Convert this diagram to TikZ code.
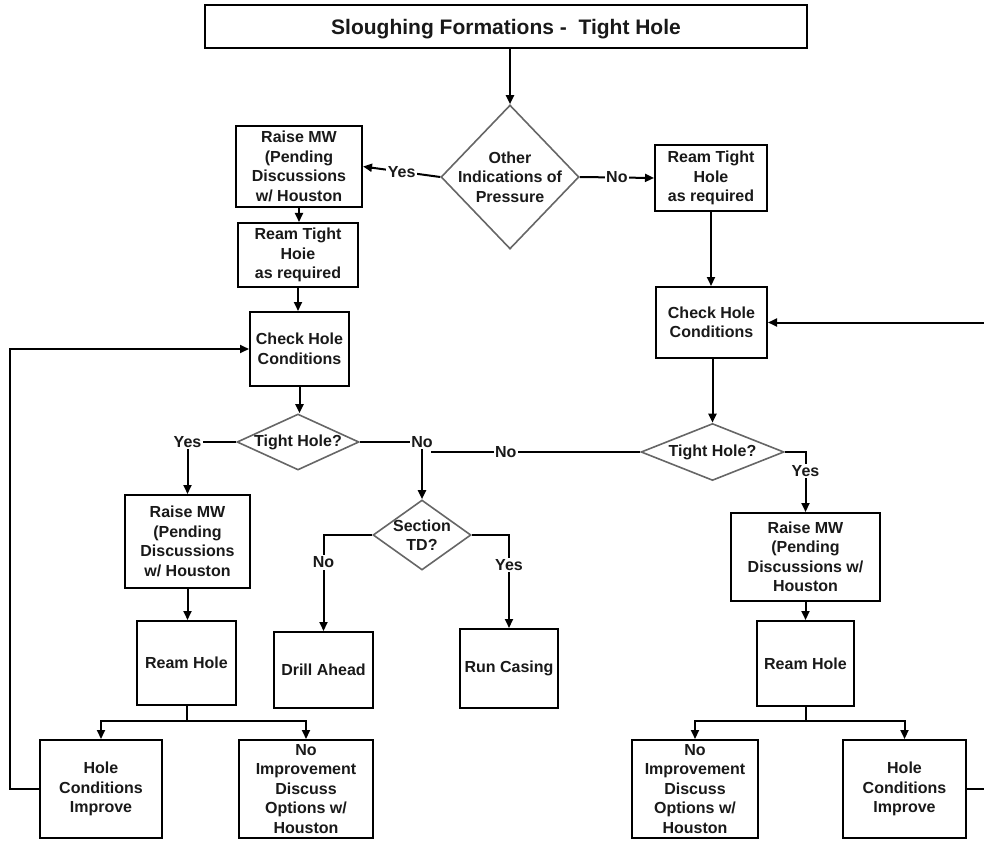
\documentclass[tikz,border=0pt]{standalone}
\usepackage{fontspec}
\setmainfont{Liberation Sans}
\usetikzlibrary{arrows.meta,shapes.geometric}
\newcommand\bxfont{\bfseries\fontsize{16}{19.5}\selectfont}
\newcommand\ttlfont{\bfseries\fontsize{21}{25}\selectfont}
\begin{document}
\begin{tikzpicture}[x=1pt,y=-1pt,
  every node/.style={text=black!90},
  stepbox/.style={draw=black, line width=2pt, rectangle, inner sep=0pt, align=center, font=\bxfont},
  decision/.style={draw=black!60, line width=1.6pt, diamond, inner sep=0pt},
  dtext/.style={align=center, font=\bxfont, inner sep=0pt},
  lbl/.style={fill=white, inner sep=1.5pt, font=\bxfont},
  conn/.style={draw=black, line width=2pt},
  arr/.style={conn, -{Triangle[length=9pt,width=8pt]}}]
\useasboundingbox (0,0) rectangle (984,842);

% title
\node[stepbox, font=\ttlfont, minimum width=602pt, minimum height=43pt, text depth=0pt] (title) at (506,26.5) {Sloughing Formations -\ \ Tight Hole};

% first decision
\node[decision, minimum width=138pt, minimum height=144pt] (d1) at (510,177) {};
\node[dtext] at (d1) {Other\\Indications of\\Pressure};

% left branch
\node[stepbox, minimum width=126pt, minimum height=81pt] (a1) at (299,166.5) {Raise MW\\(Pending\\Discussions\\w/ Houston};
\node[stepbox, minimum width=120pt, minimum height=64pt] (a2) at (298,255) {Ream Tight\\Hoie\\as required};
\node[stepbox, minimum width=99pt, minimum height=74pt] (a3) at (299.5,349) {Check Hole\\Conditions};
\node[decision, minimum width=122pt, minimum height=56pt] (d2) at (298,442) {};
\node[dtext] at (d2) {Tight Hole?};
\node[stepbox, minimum width=125pt, minimum height=93pt] (a4) at (187.5,541.5) {Raise MW\\(Pending\\Discussions\\w/ Houston};
\node[stepbox, minimum width=99pt, minimum height=84pt] (a5) at (186.5,663) {Ream Hole};
\node[stepbox, minimum width=122pt, minimum height=98pt] (b1) at (101,789) {Hole\\Conditions\\Improve};
\node[stepbox, minimum width=134pt, minimum height=98pt] (b2) at (306,789) {No\\Improvement\\Discuss\\Options w/\\Houston};

% section TD decision
\node[decision, minimum width=98pt, minimum height=70pt] (d3) at (422,535) {};
\node[dtext] at (d3) {Section\\TD?};
\node[stepbox, minimum width=99pt, minimum height=76pt] (drill) at (323.5,670) {Drill Ahead};
\node[stepbox, minimum width=98pt, minimum height=79pt] (casing) at (509,668.5) {Run Casing};

% right branch
\node[stepbox, minimum width=112pt, minimum height=66pt] (r1) at (711,178) {Ream Tight\\Hole\\as required};
\node[stepbox, minimum width=111pt, minimum height=71pt] (r2) at (711.5,322.5) {Check Hole\\Conditions};
\node[decision, minimum width=143pt, minimum height=57pt] (d4) at (712.5,452) {};
\node[dtext] at (d4) {Tight Hole?};
\node[stepbox, minimum width=149pt, minimum height=88pt] (r3) at (805.5,557) {Raise MW\\(Pending\\Discussions w/\\Houston};
\node[stepbox, minimum width=97pt, minimum height=85pt] (r4) at (805.5,663.5) {Ream Hole};
\node[stepbox, minimum width=126pt, minimum height=98pt] (r5) at (695,789) {No\\Improvement\\Discuss\\Options w/\\Houston};
\node[stepbox, minimum width=123pt, minimum height=98pt] (r6) at (904.5,789) {Hole\\Conditions\\Improve};

% loose ends of connectors
\coordinate (nojoin) at (431,452);
\coordinate (rloopB) at (984,789);
\coordinate (rloopT) at (984,322.5);

% connectors
\draw[arr] (title.south -| d1.north) -- (d1.north);
\draw[arr] (d1.west) -- node[lbl]{Yes} (a1.east);
\draw[arr] (d1.east) -- node[lbl]{No} (r1.west);

\draw[arr] (a1.south) -- (a1.south |- a2.north);
\draw[arr] (a2.south) -- (a2.south |- a3.north);
\draw[arr] (a3.south) -- (a3.south |- d2.north);
\draw[arr] (d2.west) -| node[lbl,pos=0.5]{Yes} (a4.north);
\draw[arr] (d2.east) -| node[lbl,pos=0.5]{No} (d3.north);
\draw[arr] (a4.south) -- (a4.south |- a5.north);
\draw[arr] (a5.south) -- ++(0,15) -| (b1.north);
\draw[arr] (a5.south) -- ++(0,15) -| (b2.north);
\draw[arr] (b1.west) -- ++(-29,0) |- (a3.west);

\draw[arr] (d3.west) -| node[lbl,pos=0.643]{No} (drill.north);
\draw[arr] (d3.east) -| node[lbl,pos=0.66]{Yes} (casing.north);

\draw[arr] (r1.south) -- (r1.south |- r2.north);
\draw[arr] (r2.south -| d4.north) -- (d4.north);
\draw[conn] (d4.west) -- node[lbl,pos=0.643]{No} (nojoin);
\draw[arr] (d4.east) -| node[lbl,pos=0.655]{Yes} (r3.north);
\draw[arr] (r3.south) -- (r3.south |- r4.north);
\draw[arr] (r4.south) -- ++(0,14) -| (r5.north);
\draw[arr] (r4.south) -- ++(0,14) -| (r6.north);
\draw[conn] (r6.east) -- (rloopB);
\draw[arr] (rloopT) -- (r2.east);
\end{tikzpicture}
\end{document}
